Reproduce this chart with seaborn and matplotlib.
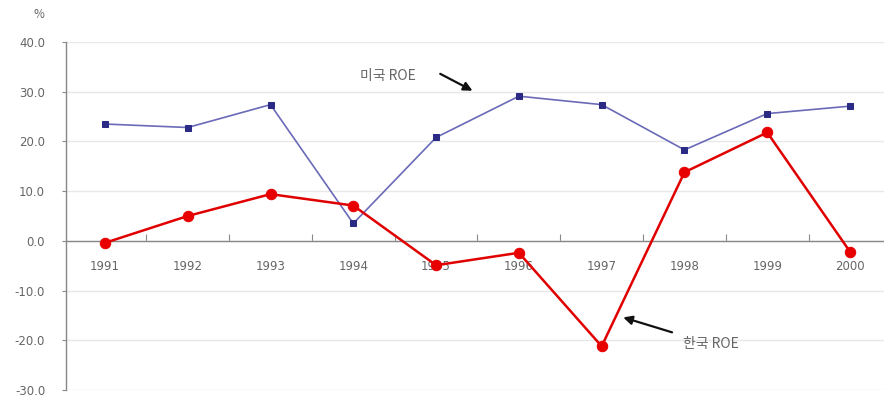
import matplotlib
matplotlib.use("Agg")
import matplotlib.pyplot as plt
from matplotlib.ticker import FixedLocator, NullFormatter
import seaborn as sns
import pandas as pd

years = ["1991", "1992", "1993", "1994", "1995", "1996", "1997", "1998", "1999", "2000"]
us_roe = [23.5, 22.8, 27.4, 3.5, 20.8, 29.1, 27.4, 18.3, 25.6, 27.1]
kr_roe = [-0.4, 5.0, 9.4, 7.1, -4.9, -2.4, -21.2, 13.8, 21.8, -2.2]
us_label = "미국 ROE"
kr_label = "한국 ROE"
y_ticks = [-30, -20, -10, 0, 10, 20, 30, 40]

sns.set_theme(style="white")
plt.rcParams["font.family"] = ["Noto Sans CJK KR", "DejaVu Sans"]

df = pd.DataFrame({
    "x": list(range(len(years))) * 2,
    "roe": us_roe + kr_roe,
    "series": [us_label] * len(years) + [kr_label] * len(years),
})

fig = plt.figure(figsize=(8.84, 4.05), dpi=100)
ax = fig.add_axes([66 / 884, 15 / 405, (884 - 66) / 884, (390 - 42) / 405])

us = df[df.series == us_label]
kr = df[df.series == kr_label]
sns.lineplot(data=us, x="x", y="roe", ax=ax, color="#6a6ab8", linewidth=1.2,
             marker="s", markersize=4.5, markerfacecolor="#2b2b85",
             markeredgecolor="#2b2b85", legend=False, zorder=3)
sns.lineplot(data=kr, x="x", y="roe", ax=ax, color="#e00000", linewidth=1.8,
             marker="o", markersize=7.5, markerfacecolor="#e80000",
             markeredgecolor="#e80000", legend=False, zorder=4)

ax.set_xlim(-0.47, 9.41)
ax.set_ylim(-30, 40)
ax.set_xlabel("")
ax.set_ylabel("")

# y axis
tick_grey = "#666666"
ax.set_yticks(y_ticks)
ax.set_yticklabels([f"{v:.1f}" for v in y_ticks], fontsize=8.5, color=tick_grey,
                   family="DejaVu Sans")
ax.yaxis.grid(True, color="#e8e8e8", linewidth=1.0)
ax.tick_params(axis="y", length=3, width=0.8, color="#888888", pad=12, left=True)

# x axis drawn along the zero line, ticks at category boundaries
ax.spines["bottom"].set_position(("data", 0))
ax.spines["bottom"].set_color("#888888")
ax.spines["bottom"].set_linewidth(1.0)
ax.spines["left"].set_color("#888888")
ax.spines["left"].set_linewidth(1.0)
ax.spines["top"].set_visible(False)
ax.spines["right"].set_visible(False)
ax.xaxis.set_major_locator(FixedLocator([i + 0.5 for i in range(-1, len(years))]))
ax.xaxis.set_major_formatter(NullFormatter())
ax.xaxis.set_minor_locator(FixedLocator(list(range(len(years)))))
ax.set_xticklabels(years, minor=True, fontsize=8.5, color=tick_grey, family="DejaVu Sans")
ax.tick_params(axis="x", which="major", direction="in", length=5, width=0.8,
               color="#888888", bottom=True)
ax.tick_params(axis="x", which="minor", length=0, pad=14, bottom=True)

fig.text(39 / 884, 1 - 15 / 405, "%", fontsize=8.5, color=tick_grey, ha="center", va="center")

# series labels with pointer arrows
arrow_style = dict(arrowstyle="-|>", color="#111111", lw=1.6, mutation_scale=13,
                   shrinkA=0, shrinkB=0)
ax.text(3.08, 33.2, us_label, fontsize=10, color=tick_grey, ha="left", va="center")
ax.annotate("", xy=(4.44, 30.2), xytext=(4.05, 33.6), arrowprops=arrow_style)
ax.text(6.98, -20.8, kr_label, fontsize=10, color=tick_grey, ha="left", va="center")
ax.annotate("", xy=(6.26, -15.4), xytext=(6.85, -18.4), arrowprops=arrow_style)

fig.savefig("out.png", dpi=100)
